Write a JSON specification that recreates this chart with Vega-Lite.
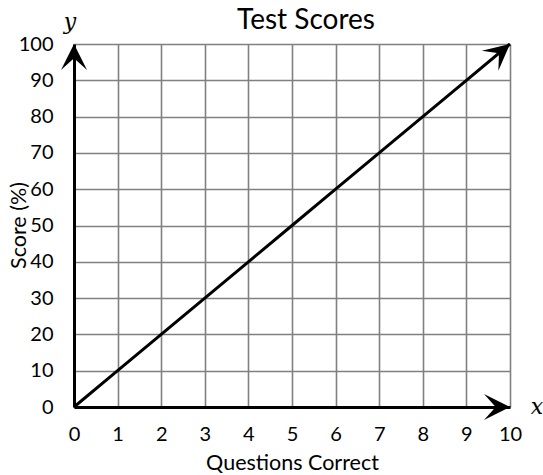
{
  "$schema": "https://vega.github.io/schema/vega-lite/v6.json",
  "width": 436,
  "height": 363,
  "autosize": "none",
  "padding": {"left": 74, "top": 44, "right": 33, "bottom": 68},
  "background": "white",
  "config": {
    "view": {"stroke": null},
    "font": "Lato",
    "axis": {
      "labelFont": "Lato",
      "titleFont": "Lato",
      "labelFontSize": 20,
      "titleFontSize": 21.5,
      "labelColor": "black",
      "titleColor": "black",
      "titleFontWeight": "normal",
      "ticks": false,
      "grid": true,
      "gridColor": "#808080",
      "gridWidth": 1.6,
      "gridOpacity": 1,
      "domainColor": "black",
      "domainWidth": 3
    }
  },
  "title": {
    "text": "Test Scores",
    "font": "Lato",
    "fontSize": 28,
    "fontWeight": "normal",
    "color": "black",
    "dx": 14,
    "offset": -24
  },
  "datasets": {
    "scores": [
      {"q": 0, "s": 0}, {"q": 1, "s": 10}, {"q": 2, "s": 20}, {"q": 3, "s": 30},
      {"q": 4, "s": 40}, {"q": 5, "s": 50}, {"q": 6, "s": 60}, {"q": 7, "s": 70},
      {"q": 8, "s": 80}, {"q": 9, "s": 90}, {"q": 10, "s": 100}
    ],
    "ends": [
      {"q": 10, "s": 0, "end": "xaxis", "label": "x"},
      {"q": 0, "s": 100, "end": "yaxis", "label": "y"},
      {"q": 10, "s": 100, "end": "line", "label": ""}
    ]
  },
  "encoding": {
    "x": {
      "field": "q", "type": "quantitative",
      "scale": {"domain": [0, 10], "nice": false, "zero": false},
      "axis": {"values": [0,1,2,3,4,5,6,7,8,9,10], "labelPadding": 17, "labelFlush": false,
               "title": "Questions Correct", "titleX": 218, "titleY": 56, "titleBaseline": "middle"}
    },
    "y": {
      "field": "s", "type": "quantitative",
      "scale": {"domain": [0, 100], "nice": false, "zero": false},
      "axis": {"values": [0,10,20,30,40,50,60,70,80,90,100], "labelPadding": 21, "labelFlush": false,
               "title": "Score (%)", "titleX": -55, "titleY": 181, "titleBaseline": "middle", "titleAngle": -90}
    }
  },
  "layer": [
    {
      "data": {"name": "scores"},
      "mark": {"type": "line", "color": "black", "strokeWidth": 3}
    },
    {
      "data": {"name": "ends"},
      "transform": [{"filter": "datum.end === 'xaxis'"}],
      "mark": {"type": "point", "filled": true, "color": "black", "opacity": 1, "size": 676, "angle": 0,
               "shape": "M0,0 L-2,-1 L-1.1,0 L-2,1 Z"}
    },
    {
      "data": {"name": "ends"},
      "transform": [{"filter": "datum.end === 'yaxis'"}],
      "mark": {"type": "point", "filled": true, "color": "black", "opacity": 1, "size": 676, "angle": 270,
               "shape": "M0,0 L-2,-1 L-1.1,0 L-2,1 Z"}
    },
    {
      "data": {"name": "ends"},
      "transform": [{"filter": "datum.end === 'line'"}],
      "mark": {"type": "point", "filled": true, "color": "black", "opacity": 1, "size": 676, "angle": 320.2,
               "shape": "M0,0 L-2,-1 L-1.1,0 L-2,1 Z"}
    },
    {
      "data": {"name": "ends"},
      "transform": [{"filter": "datum.end === 'xaxis'"}],
      "mark": {"type": "text", "font": "DejaVu Serif", "fontStyle": "italic", "fontSize": 22, "color": "black", "dx": 27, "dy": 0, "align": "center", "baseline": "middle"},
      "encoding": {"text": {"field": "label"}}
    },
    {
      "data": {"name": "ends"},
      "transform": [{"filter": "datum.end === 'yaxis'"}],
      "mark": {"type": "text", "font": "DejaVu Serif", "fontStyle": "italic", "fontSize": 22, "color": "black", "dx": -4, "dy": -22, "align": "center", "baseline": "middle"},
      "encoding": {"text": {"field": "label"}}
    }
  ]
}
